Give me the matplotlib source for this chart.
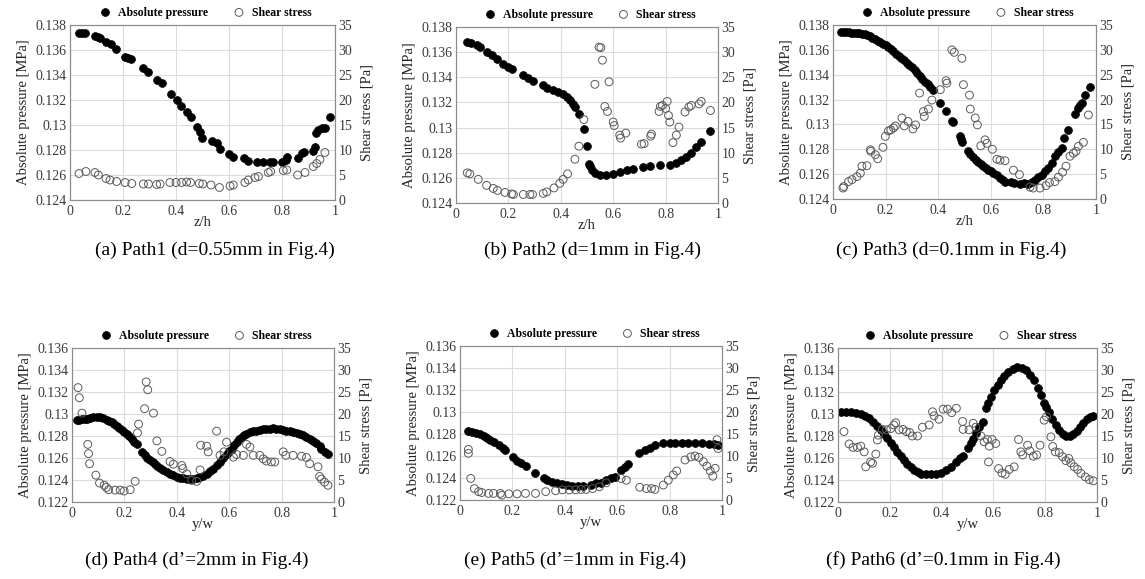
import numpy as np
import matplotlib
matplotlib.use("Agg")
import matplotlib.pyplot as plt

plt.rcParams['font.family'] = ['Liberation Serif', 'DejaVu Serif']

# ---- data: (x, value) pairs ----
a_pressure = [(0.034,0.13733),(0.045,0.13735),(0.057,0.13733),(0.094,0.13715),(0.105,0.13705),(0.113,0.13693),
              (0.136,0.13667),(0.153,0.13645),(0.174,0.13608),(0.208,0.13547),(0.218,0.13535),(0.229,0.13525),
              (0.274,0.13453),(0.296,0.13427),(0.327,0.13360),(0.346,0.13339),(0.380,0.13245),(0.403,0.13200),
              (0.419,0.13152),(0.440,0.13107),(0.455,0.13067),(0.481,0.12987),(0.491,0.12947),(0.497,0.12899),
              (0.535,0.12875),(0.555,0.12860),(0.566,0.12805),(0.601,0.12768),(0.616,0.12747),(0.658,0.12733),
              (0.673,0.12712),(0.704,0.12707),(0.730,0.12707),(0.755,0.12707),(0.765,0.12707),(0.800,0.12705),
              (0.815,0.12720),(0.820,0.12741),(0.862,0.12740),(0.874,0.12773),(0.883,0.12781),(0.918,0.12795),
              (0.925,0.12827),(0.927,0.12933),(0.937,0.12960),(0.950,0.12973),(0.962,0.12979),(0.981,0.13067)]
a_shear = [(0.034,5.3),(0.060,5.7),(0.094,5.5),(0.107,5.0),(0.136,4.3),(0.151,4.0),(0.176,3.7),(0.208,3.5),
           (0.233,3.3),(0.277,3.2),(0.296,3.2),(0.327,3.1),(0.340,3.2),(0.377,3.5),(0.400,3.5),(0.421,3.5),
           (0.440,3.6),(0.455,3.5),(0.488,3.3),(0.501,3.2),(0.532,3.0),(0.564,2.5),(0.604,2.8),(0.616,3.0),
           (0.660,3.5),(0.673,4.0),(0.698,4.5),(0.711,4.7),(0.748,5.5),(0.757,5.7),(0.805,5.9),(0.818,6.0),
           (0.859,5.0),(0.887,5.5),(0.918,6.7),(0.931,7.3),(0.943,8.1),(0.962,9.5)]

b_pressure = [(0.041,0.13681),(0.056,0.13673),(0.079,0.13654),(0.091,0.13641),(0.117,0.13601),(0.136,0.13575),
              (0.155,0.13548),(0.180,0.13508),(0.199,0.13482),(0.212,0.13463),(0.257,0.13415),(0.276,0.13397),
              (0.295,0.13370),(0.333,0.13336),(0.346,0.13317),(0.371,0.13296),(0.390,0.13283),(0.407,0.13264),
              (0.422,0.13243),(0.435,0.13216),(0.445,0.13190),(0.454,0.13163),(0.470,0.13110),(0.488,0.12991),
              (0.500,0.12850),(0.508,0.12710),(0.513,0.12695),(0.518,0.12665),(0.530,0.12640),(0.549,0.12620),
              (0.574,0.12620),(0.600,0.12628),(0.625,0.12646),(0.651,0.12659),(0.676,0.12673),(0.714,0.12686),
              (0.740,0.12694),(0.778,0.12699),(0.816,0.12704),(0.841,0.12718),(0.860,0.12739),(0.879,0.12766),
              (0.898,0.12797),(0.917,0.12845),(0.936,0.12885),(0.971,0.12970)]
b_shear = [(0.043,6.0),(0.053,5.8),(0.085,4.7),(0.117,3.5),(0.142,2.9),(0.158,2.5),(0.187,2.1),(0.212,1.8),
           (0.219,1.7),(0.257,1.7),(0.282,1.7),(0.292,1.7),(0.333,1.9),(0.346,2.2),(0.374,3.0),(0.396,3.9),
           (0.409,4.7),(0.426,5.8),(0.454,8.7),(0.469,11.3),(0.488,16.6),(0.530,23.6),(0.546,31.0),(0.553,30.9),
           (0.559,28.4),(0.584,24.1),(0.568,19.2),(0.578,18.2),(0.600,16.1),(0.604,15.4),(0.625,13.5),(0.628,12.9),
           (0.648,13.9),(0.708,11.7),(0.718,11.8),(0.743,13.3),(0.746,13.7),(0.775,18.2),(0.780,19.2),(0.788,19.4),
           (0.806,20.2),(0.800,18.8),(0.811,17.4),(0.816,16.1),(0.828,12.0),(0.841,13.5),(0.851,15.1),(0.874,18.1),
           (0.889,19.1),(0.898,19.4),(0.928,19.7),(0.936,20.2),(0.971,18.4)]

c_pressure = [(0.030,0.13741),(0.040,0.13742),(0.050,0.13741),(0.060,0.13740),(0.070,0.13739),(0.080,0.13737),
              (0.090,0.13735),(0.100,0.13733),(0.110,0.13729),(0.120,0.13724),(0.130,0.13718),(0.140,0.13709),
              (0.150,0.13698),(0.160,0.13687),(0.170,0.13675),(0.180,0.13664),(0.190,0.13650),(0.200,0.13637),
              (0.210,0.13622),(0.220,0.13605),(0.230,0.13588),(0.240,0.13570),(0.250,0.13553),(0.260,0.13535),
              (0.270,0.13516),(0.280,0.13497),(0.290,0.13478),(0.300,0.13460),(0.310,0.13438),(0.320,0.13415),
              (0.330,0.13392),(0.340,0.13368),(0.350,0.13345),(0.360,0.13322),(0.370,0.13300),(0.380,0.13275),
              (0.408,0.13176),(0.429,0.13112),(0.452,0.13030),(0.458,0.13016),(0.484,0.12905),(0.488,0.12880),
              (0.490,0.12855),(0.515,0.12790),(0.522,0.12764),(0.534,0.12735),(0.544,0.12715),(0.553,0.12697),
              (0.562,0.12683),(0.572,0.12668),(0.582,0.12652),(0.591,0.12636),(0.600,0.12622),(0.610,0.12609),
              (0.622,0.12590),(0.635,0.12569),(0.645,0.12550),(0.654,0.12534),(0.676,0.12534),(0.689,0.12530),
              (0.711,0.12523),(0.725,0.12525),(0.743,0.12523),(0.756,0.12534),(0.768,0.12555),(0.781,0.12577),
              (0.794,0.12596),(0.806,0.12622),(0.819,0.12649),(0.832,0.12689),(0.844,0.12743),(0.857,0.12775),
              (0.870,0.12810),(0.878,0.12890),(0.895,0.12957),(0.920,0.13083),(0.933,0.13131),(0.939,0.13158),
              (0.948,0.13176),(0.958,0.13238),(0.977,0.13299)]
c_shear = [(0.038,2.2),(0.041,2.5),(0.059,3.5),(0.072,3.9),(0.091,4.5),(0.104,5.2),(0.110,6.6),(0.129,6.7),
           (0.142,9.9),(0.144,9.6),(0.161,8.9),(0.170,8.1),(0.190,10.4),(0.199,12.6),(0.211,13.7),(0.220,13.9),
           (0.230,14.3),(0.237,14.7),(0.262,16.3),(0.271,14.7),(0.285,15.6),(0.304,14.1),(0.314,14.9),(0.329,21.3),
           (0.344,17.6),(0.347,16.6),(0.363,18.1),(0.376,19.9),(0.408,22.0),(0.430,23.8),(0.433,23.3),(0.452,30.0),
           (0.461,29.5),(0.490,28.3),(0.496,23.0),(0.519,20.9),(0.522,18.1),(0.541,16.3),(0.549,14.9),(0.562,10.7),
           (0.578,11.9),(0.585,11.2),(0.606,10.0),(0.623,8.0),(0.635,7.8),(0.654,7.7),(0.686,5.8),(0.709,4.9),
           (0.749,2.4),(0.761,2.2),(0.787,2.2),(0.810,2.7),(0.823,3.3),(0.844,3.5),(0.857,4.4),(0.873,5.4),
           (0.886,6.6),(0.901,8.6),(0.914,9.2),(0.924,9.6),(0.933,10.6),(0.952,11.4),(0.971,16.9)]

d_pressure = [(0.019,0.12948),(0.028,0.12950),(0.038,0.12952),(0.048,0.12955),(0.057,0.12958),(0.070,0.12965),
              (0.082,0.12973),(0.095,0.12975),(0.108,0.12973),(0.120,0.12962),(0.133,0.12948),(0.142,0.12938),
              (0.152,0.12927),(0.162,0.12908),(0.171,0.12888),(0.180,0.12870),(0.190,0.12852),(0.200,0.12834),
              (0.209,0.12815),(0.218,0.12796),(0.228,0.12776),(0.237,0.12750),(0.247,0.12724),(0.266,0.12655),
              (0.279,0.12624),(0.288,0.12600),(0.298,0.12579),(0.308,0.12560),(0.317,0.12542),(0.326,0.12527),
              (0.336,0.12512),(0.349,0.12492),(0.362,0.12473),(0.374,0.12457),(0.387,0.12442),(0.400,0.12431),
              (0.412,0.12421),(0.425,0.12415),(0.438,0.12412),(0.450,0.12410),(0.463,0.12412),(0.476,0.12418),
              (0.489,0.12427),(0.501,0.12440),(0.514,0.12458),(0.527,0.12480),(0.539,0.12503),(0.552,0.12532),
              (0.565,0.12564),(0.578,0.12598),(0.590,0.12633),(0.600,0.12660),(0.609,0.12685),(0.618,0.12715),
              (0.628,0.12745),(0.637,0.12770),(0.647,0.12791),(0.656,0.12807),(0.666,0.12821),(0.679,0.12832),
              (0.692,0.12842),(0.704,0.12850),(0.717,0.12858),(0.730,0.12863),(0.742,0.12867),(0.755,0.12868),
              (0.768,0.12870),(0.780,0.12867),(0.793,0.12860),(0.806,0.12852),(0.818,0.12847),(0.831,0.12842),
              (0.844,0.12835),(0.857,0.12827),(0.870,0.12817),(0.882,0.12806),(0.895,0.12792),(0.907,0.12776),
              (0.920,0.12758),(0.933,0.12736),(0.945,0.12705),(0.952,0.12685),(0.964,0.12655),(0.977,0.12639)]
d_shear = [(0.023,26.0),(0.028,23.7),(0.038,20.2),(0.060,13.1),(0.063,11.0),(0.067,8.7),(0.091,6.1),(0.105,4.3),
           (0.123,3.8),(0.131,3.3),(0.140,2.8),(0.165,2.7),(0.184,2.7),(0.199,2.5),(0.222,2.8),(0.241,4.7),
           (0.250,15.7),(0.254,17.7),(0.277,21.2),(0.283,27.3),(0.289,25.5),(0.311,20.2),(0.324,13.9),(0.343,11.5),
           (0.374,9.2),(0.387,8.6),(0.419,8.3),(0.423,7.6),(0.438,6.4),(0.457,4.9),(0.476,4.7),(0.489,7.3),
           (0.491,12.9),(0.514,12.7),(0.520,11.4),(0.552,16.1),(0.565,10.6),(0.580,11.4),(0.590,13.6),(0.616,10.2),
           (0.628,10.8),(0.654,10.6),(0.666,13.1),(0.679,12.5),(0.692,10.6),(0.717,10.6),(0.730,9.8),(0.742,9.3),
           (0.761,9.1),(0.774,9.1),(0.806,11.4),(0.816,10.6),(0.844,10.6),(0.876,10.4),(0.895,10.1),(0.907,8.7),
           (0.939,8.0),(0.945,5.8),(0.952,5.2),(0.964,4.5),(0.977,3.8)]

e_pressure = [(0.032,0.12825),(0.045,0.12819),(0.060,0.12813),(0.077,0.12798),(0.090,0.12780),(0.103,0.12765),
              (0.115,0.12750),(0.128,0.12729),(0.147,0.12698),(0.163,0.12677),(0.173,0.12653),(0.201,0.12587),
              (0.218,0.12556),(0.231,0.12532),(0.253,0.12508),(0.286,0.12448),(0.321,0.12396),(0.333,0.12381),
              (0.353,0.12366),(0.372,0.12351),(0.391,0.12345),(0.410,0.12336),(0.429,0.12330),(0.449,0.12327),
              (0.468,0.12330),(0.500,0.12336),(0.519,0.12351),(0.538,0.12357),(0.558,0.12381),(0.577,0.12396),
              (0.590,0.12411),(0.615,0.12472),(0.628,0.12502),(0.641,0.12523),(0.683,0.12623),(0.705,0.12653),
              (0.724,0.12677),(0.744,0.12698),(0.776,0.12714),(0.801,0.12714),(0.821,0.12720),(0.846,0.12714),
              (0.872,0.12714),(0.897,0.12714),(0.923,0.12714),(0.949,0.12708),(0.968,0.12708),(0.985,0.12699)]
e_shear = [(0.032,11.5),(0.032,10.6),(0.041,4.9),(0.055,2.6),(0.071,1.9),(0.083,1.7),(0.109,1.5),(0.128,1.5),
           (0.154,1.5),(0.160,1.1),(0.186,1.4),(0.218,1.4),(0.250,1.5),(0.288,1.5),(0.327,1.9),(0.365,2.1),
           (0.391,2.3),(0.417,2.3),(0.442,2.3),(0.462,2.4),(0.481,2.4),(0.506,2.6),(0.532,3.0),(0.558,3.9),
           (0.615,4.9),(0.635,4.5),(0.686,2.9),(0.712,2.6),(0.731,2.6),(0.744,2.4),(0.776,3.4),(0.795,4.5),
           (0.814,5.7),(0.827,6.6),(0.859,9.1),(0.881,9.8),(0.897,10.0),(0.912,9.7),(0.929,8.7),(0.942,7.7),
           (0.955,6.6),(0.965,5.4),(0.974,7.2),(0.981,13.7),(0.985,11.7)]

f_pressure = [(0.010,0.13022),(0.030,0.13022),(0.049,0.13019),(0.068,0.13013),(0.088,0.13000),(0.104,0.12982),
              (0.120,0.12961),(0.135,0.12930),(0.152,0.12891),(0.165,0.12854),(0.178,0.12818),(0.191,0.12778),
              (0.204,0.12733),(0.216,0.12696),(0.229,0.12656),(0.242,0.12617),(0.255,0.12580),(0.268,0.12550),
              (0.281,0.12520),(0.294,0.12495),(0.307,0.12474),(0.320,0.12459),(0.339,0.12453),(0.358,0.12453),
              (0.378,0.12453),(0.397,0.12465),(0.416,0.12489),(0.436,0.12520),(0.455,0.12565),(0.470,0.12596),
              (0.481,0.12617),(0.500,0.12687),(0.513,0.12733),(0.522,0.12769),(0.532,0.12830),(0.545,0.12885),
              (0.558,0.12930),(0.571,0.13052),(0.581,0.13104),(0.590,0.13159),(0.603,0.13219),(0.616,0.13265),
              (0.629,0.13311),(0.642,0.13347),(0.658,0.13378),(0.674,0.13408),(0.693,0.13423),(0.710,0.13417),
              (0.726,0.13396),(0.741,0.13356),(0.755,0.13311),(0.771,0.13235),(0.784,0.13174),(0.796,0.13104),
              (0.805,0.13061),(0.813,0.13022),(0.826,0.12952),(0.842,0.12900),(0.852,0.12854),(0.867,0.12818),
              (0.880,0.12800),(0.896,0.12800),(0.909,0.12818),(0.921,0.12845),(0.934,0.12879),(0.947,0.12915),
              (0.960,0.12952),(0.973,0.12970),(0.986,0.12982)]
f_shear = [(0.023,16.0),(0.043,13.2),(0.058,12.4),(0.075,12.4),(0.088,12.7),(0.101,11.4),(0.107,8.0),(0.126,9.1),
           (0.133,8.8),(0.146,10.9),(0.152,14.1),(0.156,15.2),(0.171,16.5),(0.187,16.4),(0.204,16.7),(0.216,17.5),
           (0.223,18.0),(0.236,16.4),(0.251,16.5),(0.264,16.0),(0.277,15.8),(0.287,15.0),(0.307,15.0),(0.326,17.0),
           (0.352,17.5),(0.365,20.5),(0.371,19.6),(0.390,18.8),(0.406,21.1),(0.423,21.1),(0.439,20.3),(0.457,21.3),
           (0.481,18.3),(0.483,16.5),(0.506,16.4),(0.522,17.9),(0.532,17.0),(0.552,15.0),(0.564,13.7),(0.577,14.2),
           (0.584,12.7),(0.595,14.2),(0.609,13.3),(0.581,9.1),(0.620,7.6),(0.633,6.6),(0.646,6.3),(0.661,7.4),
           (0.680,8.0),(0.697,14.2),(0.706,11.4),(0.713,10.7),(0.732,12.9),(0.741,11.6),(0.754,10.4),(0.767,10.7),
           (0.780,12.9),(0.796,18.6),(0.805,19.4),(0.822,14.8),(0.829,12.6),(0.839,11.4),(0.854,11.2),(0.867,10.3),
           (0.880,9.4),(0.891,9.9),(0.899,8.9),(0.912,8.0),(0.925,7.4),(0.938,6.5),(0.955,5.7),(0.970,5.1),
           (0.986,4.8)]

top_ticks = [0.124, 0.126, 0.128, 0.13, 0.132, 0.134, 0.136, 0.138]
bottom_ticks = [0.122, 0.124, 0.126, 0.128, 0.13, 0.132, 0.134, 0.136]
shear_ticks = [0, 5, 10, 15, 20, 25, 30, 35]
x_ticks = [0, 0.2, 0.4, 0.6, 0.8, 1]
x_labels = ['0', '0.2', '0.4', '0.6', '0.8', '1']

captions = ['(a) Path1 (d=0.55mm in Fig.4)', '(b) Path2 (d=1mm in Fig.4)', '(c) Path3 (d=0.1mm in Fig.4)',
            '(d) Path4 (d\u2019=2mm in Fig.4)', '(e) Path5 (d\u2019=1mm in Fig.4)', '(f) Path6 (d\u2019=0.1mm in Fig.4)']

W, H = 1145, 579
fig = plt.figure(figsize=(W / 100, H / 100), dpi=100)


def box(l, t, r, b):
    return [l / W, 1 - b / H, (r - l) / W, (b - t) / H]


panels = [
    (box(70, 25, 335, 200), a_pressure, a_shear, top_ticks, 'z/h'),
    (box(456, 27, 718, 203), b_pressure, b_shear, top_ticks, 'z/h'),
    (box(833, 25, 1096, 199), c_pressure, c_shear, top_ticks, 'z/h'),
    (box(72, 348, 334, 502), d_pressure, d_shear, bottom_ticks, 'y/w'),
    (box(460, 346, 722, 500), e_pressure, e_shear, bottom_ticks, 'y/w'),
    (box(838, 348, 1097, 502), f_pressure, f_shear, bottom_ticks, 'y/w'),
]

tick_col = '#3a3a3a'
for rect, pres, shear, yt, xl in panels:
    ax = fig.add_axes(rect)
    ax2 = ax.twinx()
    px, py = np.array(pres).T
    sx, sy = np.array(shear).T
    h1 = ax.scatter(px, py, s=32, color='black', edgecolors='black', linewidths=0.5, zorder=3)
    h2 = ax2.scatter(sx, sy, s=32, facecolors='none', edgecolors='#5a5a5a', linewidths=0.7, zorder=3)
    ax.set_xlim(0, 1)
    ax.set_ylim(yt[0], yt[-1])
    ax2.set_ylim(0, 35)
    ax.set_xticks(x_ticks)
    ax.set_xticklabels(x_labels)
    ax.set_yticks(yt)
    ax.set_yticklabels([('%g' % v) for v in yt])
    ax2.set_yticks(shear_ticks)
    ax.grid(True, color='#dcdcdc', linewidth=0.8)
    ax.set_axisbelow(True)
    for a in (ax, ax2):
        for sp in a.spines.values():
            sp.set_color('#8c8c8c')
            sp.set_linewidth(0.8)
        a.tick_params(length=0, labelsize=10, labelcolor=tick_col, pad=2.5)
    ax.tick_params(axis='x', pad=3.5)
    ax.set_xlabel(xl, fontsize=10.5, color='#222222', labelpad=-1)
    ax.set_ylabel('Absolute pressure [MPa]', fontsize=10.5, color='#222222', labelpad=4)
    ax2.set_ylabel('Shear stress [Pa]', fontsize=10.5, color='#222222', labelpad=6)
    ax2.legend([h1, h2], ['Absolute pressure', 'Shear stress'], loc='lower center',
               bbox_to_anchor=(0.5, 1.0), ncol=2, frameon=False, borderaxespad=0.15,
               handletextpad=0.1, columnspacing=1.6, markerscale=1.0,
               prop={'family': 'Liberation Serif', 'size': 8.5, 'weight': 'bold'})

cap_pos = [(215, 250), (592, 250), (951, 250), (197, 560), (575, 560), (943, 560)]
for (cx, cy), txt in zip(cap_pos, captions):
    fig.text(cx / W, 1 - cy / H, txt, ha='center', va='center', fontsize=14, color='black')

fig.savefig('out.png', dpi=100)
